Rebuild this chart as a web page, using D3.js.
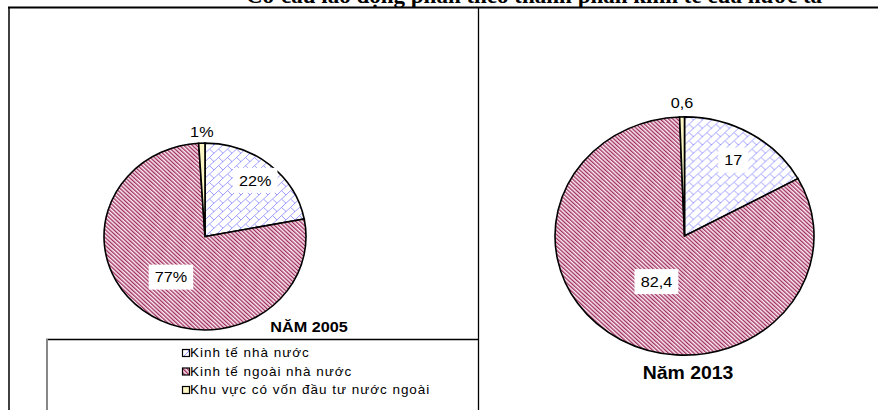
<!DOCTYPE html>
<html><head><meta charset="utf-8">
<script src="https://cdn.jsdelivr.net/npm/d3@7"></script>
<style>html,body{margin:0;padding:0;background:#fff;overflow:hidden}</style>
</head><body>
<svg id="c" width="878" height="410"></svg>
<script>
// ---- data ----
const title = "Cơ cấu lao động phân theo thành phần kinh tế của nước ta";
const categories = ["Kinh tế nhà nước", "Kinh tế ngoài  nhà nước", "Khu vực có vốn đầu tư nước ngoài"];
const values2005 = [22, 77, 1];
const labels2005 = ["22%", "77%", "1%"];
const values2013 = [17, 82.4, 0.6];
const labels2013 = ["17", "82,4", "0,6"];
const yearLabels = ["NĂM 2005", "Năm 2013"];

const svg = d3.select("#c");
const defs = svg.append("defs");
const SX = 1.08; // horizontal stretch of the original picture

// patterns
const pBrick = defs.append("pattern").attr("id","brick").attr("patternUnits","userSpaceOnUse")
  .attr("width",9).attr("height",9);
pBrick.append("rect").attr("width",9).attr("height",9).attr("fill","#fff");
pBrick.append("path").attr("d","M0,9 L9,0 M4.5,4.5 L9,9 M-1,1 L1,-1")
  .attr("stroke","#7f7fff").attr("stroke-width",0.8).attr("fill","none");
const pHatch = defs.append("pattern").attr("id","hatch").attr("patternUnits","userSpaceOnUse")
  .attr("width",3).attr("height",3).attr("patternTransform","rotate(-45)");
pHatch.append("rect").attr("width",3).attr("height",3).attr("fill","#fbeaf0");
pHatch.append("line").attr("x1",0.7).attr("x2",0.7).attr("y1",0).attr("y2",3)
  .attr("stroke","#9a2458").attr("stroke-width",1.3);
const fills = ["url(#brick)", "url(#hatch)", "#fbf6c4"];

// frame
svg.append("text").attr("x",246).attr("y",2.5).text(title)
  .attr("font-family","Liberation Serif, Times New Roman, serif").attr("font-weight","bold")
  .attr("font-size",23).attr("fill","#000");
svg.append("line").attr("x1",8).attr("x2",878).attr("y1",7.5).attr("y2",7.5).attr("stroke","#000").attr("stroke-width",2);
svg.append("line").attr("x1",9).attr("x2",9).attr("y1",7).attr("y2",410).attr("stroke","#000").attr("stroke-width",1.5);
svg.append("line").attr("x1",478.5).attr("x2",478.5).attr("y1",7).attr("y2",410).attr("stroke","#000").attr("stroke-width",1.3);

function txt(g, x, y, s, size, weight, anchor){
  return g.append("text").attr("transform",`translate(${x},${y}) scale(${SX},1)`)
    .attr("text-anchor",anchor||"middle").attr("dominant-baseline","central")
    .attr("font-family","Liberation Sans, Arial, sans-serif").attr("font-size",size)
    .attr("font-weight",weight||"normal").attr("fill","#000").text(s);
}

function drawPie(values, labels, cx, cy, r, ky, inR, bigR, smallGap){
  const pie = d3.pie().sort(null).value(d=>d)(values);
  const arc = d3.arc().innerRadius(0).outerRadius(r);
  const g = svg.append("g").attr("transform",`translate(${cx},${cy})`);
  const gs = g.append("g").attr("transform",`scale(1,${ky})`);
  gs.selectAll("path").data(pie).join("path")
    .attr("d",arc).attr("fill",(d,i)=>fills[i])
    .attr("stroke","#000").attr("stroke-width",1.6).attr("vector-effect","non-scaling-stroke");
  pie.forEach((d,i)=>{
    const a = (d.startAngle+d.endAngle)/2;
    if(i===2){
      const x = Math.sin(a)*r, y = -Math.cos(a)*r*ky - smallGap;
      txt(g, x, y, labels[i], 15);
    } else {
      const rr = (i===0?inR:bigR)*r;
      const x = Math.sin(a)*rr, y = -Math.cos(a)*rr*ky;
      const t = txt(g, x, y, labels[i], 15);
      const bb = t.node().getBBox();
      const w = bb.width*SX + 12, h = 25;
      g.insert("rect", function(){return t.node();}).attr("x",x-w/2).attr("y",y-h/2)
        .attr("width",w).attr("height",h).attr("fill","#fff");
    }
  });
  return g;
}

drawPie(values2005, labels2005, 205, 236.5, 101, 0.925, 0.78, 0.55, 11);
drawPie(values2013, labels2013, 684.5, 236, 129.5, 0.92, 0.74, 0.44, 14);

txt(svg, 309, 327, yearLabels[0], 15, "bold");
txt(svg, 688, 373, yearLabels[1], 18, "bold");

// legend
const lg = svg.append("g");
lg.append("line").attr("x1",46).attr("x2",478).attr("y1",339.5).attr("y2",339.5).attr("stroke","#000").attr("stroke-width",1.3);
lg.append("line").attr("x1",47).attr("x2",47).attr("y1",339).attr("y2",410).attr("stroke","#888").attr("stroke-width",2);
const ly = d3.scalePoint().domain(categories).range([353, 390]);
categories.forEach((c,i)=>{
  lg.append("rect").attr("x",182.5).attr("y",ly(c)-3.5).attr("width",7).attr("height",7)
    .attr("fill",fills[i]).attr("stroke","#000").attr("stroke-width",1.2);
  txt(lg, 190, ly(c), c, 12.5, "normal", "start").attr("letter-spacing",0.9);
});
</script>
</body></html>
